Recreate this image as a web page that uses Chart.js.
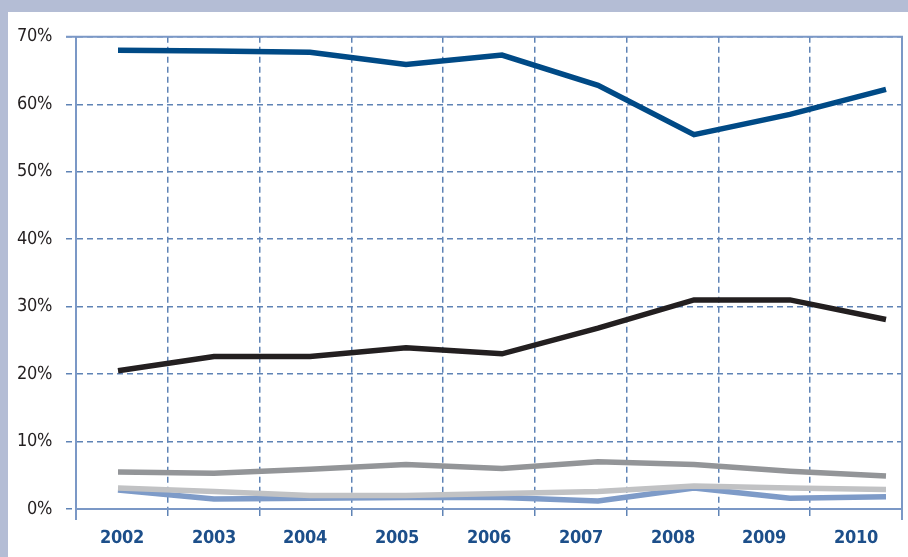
<!DOCTYPE html>
<html>
<head>
<meta charset="utf-8">
<script src="https://cdn.jsdelivr.net/npm/chart.js@4.4.1/dist/chart.umd.min.js"></script>
<style>
  @font-face {
    font-family: 'AxisNarrow';
    font-weight: 400;
    src: local('Liberation Sans Narrow'), local('LiberationSansNarrow-Regular'), local('LiberationSansNarrow'),
         local('DejaVu Sans Condensed'), local('DejaVuSansCondensed');
  }
  @font-face {
    font-family: 'AxisNarrow';
    font-weight: 700;
    src: local('Liberation Sans Narrow Bold'), local('LiberationSansNarrow-Bold'),
         local('DejaVu Sans Condensed Bold'), local('DejaVuSansCondensed-Bold');
  }
  html, body { margin: 0; padding: 0; }
  body { width: 908px; height: 557px; background: #b4bdd5; position: relative; overflow: hidden; }
  #wrap { position: absolute; left: 8px; top: 12px; width: 900px; height: 545px; background: #fff; }
</style>
</head>
<body>
<div id="wrap"><canvas id="shareChart"></canvas></div>
<script>
  // years on the category axis
  const years = ['2002', '2003', '2004', '2005', '2006', '2007', '2008', '2009', '2010'];

  // shares in percent, one value per year
  const seriesNavy = [68.0, 67.9, 67.7, 65.9, 67.3, 62.8, 55.5, 58.5, 62.2];
  const seriesBlack = [20.5, 22.6, 22.6, 23.9, 23.0, 26.8, 31.0, 31.0, 28.1];
  const seriesDarkGrey = [5.5, 5.3, 5.9, 6.6, 6.0, 7.0, 6.6, 5.6, 4.9];
  const seriesLightGrey = [3.1, 2.6, 2.0, 2.0, 2.3, 2.6, 3.4, 3.1, 2.9];
  const seriesBlue = [2.8, 1.5, 1.6, 1.7, 1.7, 1.2, 3.1, 1.6, 1.8];

  const yTicks = [0, 10, 20, 30, 40, 50, 60, 70];

  const gridBlue = '#5f83b5';
  const axisBlue = '#7b98c6';
  const fontFamily = 'AxisNarrow, "Liberation Sans Narrow", "DejaVu Sans Condensed", sans-serif';

  function toPoints(values) {
    return values.map((v, i) => ({ x: Number(years[i]), y: v }));
  }

  function makeLine(values, color) {
    return {
      data: toPoints(values),
      xAxisID: 'xData',
      borderColor: color,
      backgroundColor: color,
      borderWidth: 5.5,
      borderCapStyle: 'butt',
      borderJoinStyle: 'miter',
      pointRadius: 0,
      fill: false,
      tension: 0
    };
  }

  // solid frame on the top and right side of the plot
  const framePlugin = {
    id: 'frame',
    afterDraw(chart) {
      const { ctx, chartArea: a } = chart;
      ctx.save();
      ctx.strokeStyle = axisBlue;
      ctx.lineWidth = 2;
      ctx.beginPath();
      ctx.moveTo(a.left - 10, a.top);
      ctx.lineTo(a.right, a.top);
      ctx.lineTo(a.right, a.bottom + 11);
      ctx.moveTo(a.left, a.bottom);
      ctx.lineTo(a.left, a.bottom + 11);
      ctx.stroke();
      ctx.restore();
    }
  };

  function drawChart() {
    const ctx = document.getElementById('shareChart').getContext('2d');
    new Chart(ctx, {
      type: 'line',
      data: {
        labels: years,
        datasets: [
          makeLine(seriesDarkGrey, '#939598'),
          makeLine(seriesLightGrey, '#c1c2c4'),
          makeLine(seriesBlue, '#7e9bc8'),
          makeLine(seriesBlack, '#231f20'),
          makeLine(seriesNavy, '#004a86')
        ]
      },
      options: {
        responsive: true,
        maintainAspectRatio: false,
        animation: false,
        layout: { padding: { left: 0, right: 6, top: 23, bottom: 0 } },
        plugins: {
          legend: { display: false },
          tooltip: { enabled: false }
        },
        scales: {
          x: {
            type: 'category',
            offset: true,
            afterFit: scale => { scale.height = 48; },
            grid: {
              offset: true,
              color: gridBlue,
              lineWidth: 1.5,
              tickLength: 9,
              tickBorderDash: [6, 4]
            },
            border: { display: true, color: axisBlue, width: 2, dash: [6, 4] },
            ticks: {
              color: '#1d4f8a',
              padding: 10,
              font: { family: fontFamily, size: 18, weight: 'bold' }
            }
          },
          xData: {
            type: 'linear',
            display: false,
            min: 2002 - 0.4375,
            max: 2010 + 0.1667
          },
          y: {
            min: 0,
            max: 70,
            afterFit: scale => { scale.width = 68; },
            afterBuildTicks: scale => { scale.ticks = yTicks.map(v => ({ value: v })); },
            grid: {
              color: gridBlue,
              lineWidth: 1.5,
              tickLength: 10,
              tickBorderDash: [6, 4]
            },
            border: { display: true, color: axisBlue, width: 2, dash: [6, 4] },
            ticks: {
              color: '#231f20',
              padding: 14,
              callback: v => v + '%',
              font: { family: fontFamily, size: 18 }
            }
          }
        }
      },
      plugins: [framePlugin]
    });
  }

  Promise.all([
    document.fonts.load('18px AxisNarrow'),
    document.fonts.load('bold 18px AxisNarrow')
  ]).then(drawChart, drawChart);
</script>
</body>
</html>
